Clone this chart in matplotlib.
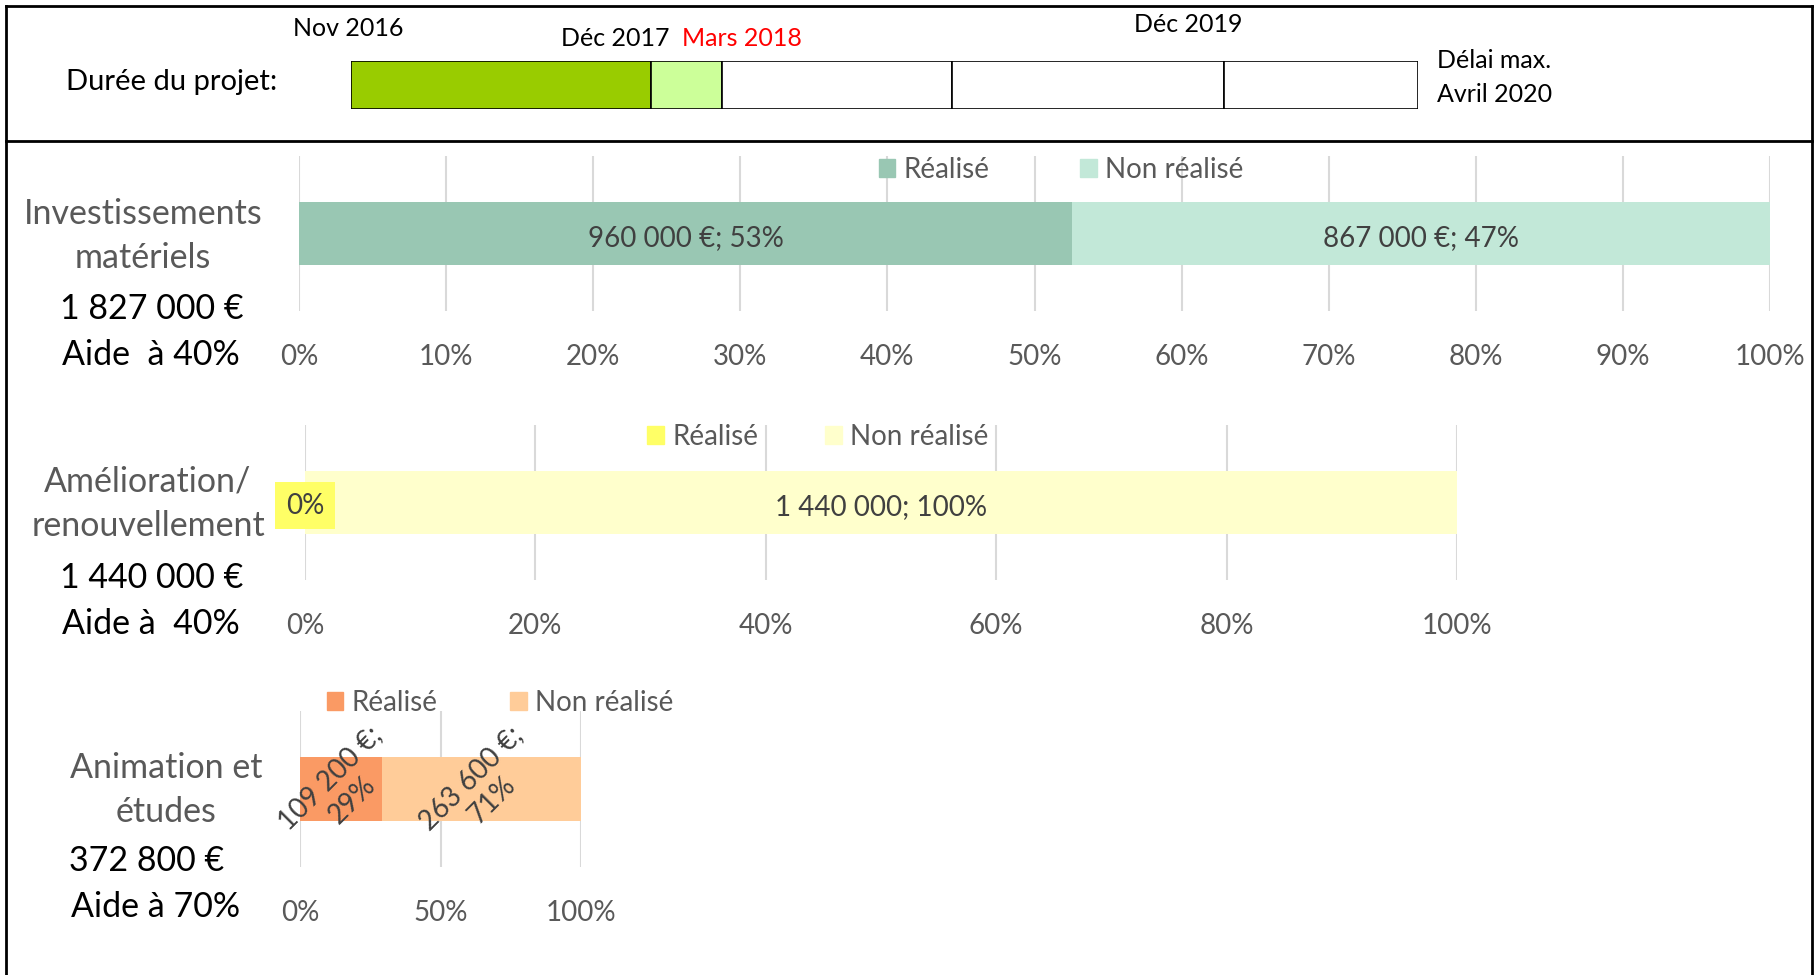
import matplotlib
matplotlib.use('Agg')
import matplotlib.pyplot as plt
from matplotlib.patches import Patch
from matplotlib.lines import Line2D

W, H = 1818, 975
plt.rcParams['font.family'] = ['Lato', 'DejaVu Sans']

# --- data ---
timeline_edges = [0.0, 0.2815, 0.348, 0.563, 0.818, 1.0]   # fraction of the project span
timeline_colors = ['#99CC00', '#CCFF99', 'white', 'white', 'white']

series = ['Réalisé', 'Non réalisé']
inv_values = [960000, 867000]
amel_values = [0, 1440000]
anim_values = [109200, 263600]

inv_colors = ['#99C7B3', '#C2E8D8']
amel_colors = ['#FFFF66', '#FFFFCC']
anim_colors = ['#FA9A64', '#FFCC99']

inv_ticks = [0, .1, .2, .3, .4, .5, .6, .7, .8, .9, 1.0]
amel_ticks = [0, .2, .4, .6, .8, 1.0]
anim_ticks = [0, .5, 1.0]

GRAY = '#595959'
DARK = '#404040'


def fx(x):
    return x / W


def fy(y):
    return 1 - y / H


def rect(x0, y0, x1, y1):
    return [x0 / W, 1 - y1 / H, (x1 - x0) / W, (y1 - y0) / H]


def money(v):
    return f'{v:,.0f}'.replace(',', ' ')


fig = plt.figure(figsize=(W / 100, H / 100), dpi=100)

# frame
for xs, ys in [([6, 6], [6, 975]), ([6, 1812], [6, 6]), ([1812, 1812], [6, 975]),
               ([6, 1812], [141, 141])]:
    fig.add_artist(Line2D([fx(x) for x in xs], [fy(y) for y in ys],
                          color='black', lw=2, transform=fig.transFigure))

# timeline
ax = fig.add_axes(rect(351, 61, 1418, 109))
widths = [b - a for a, b in zip(timeline_edges[:-1], timeline_edges[1:])]
ax.barh(0, widths, left=timeline_edges[:-1], height=1, color=timeline_colors,
        edgecolor='black', lw=1.2)
ax.set_xlim(0, 1)
ax.set_ylim(-0.5, 0.5)
ax.axis('off')

fig.text(fx(172), fy(82), 'Durée du projet:', fontsize=21, ha='center', va='center')
fig.text(fx(348), fy(29), 'Nov 2016', fontsize=18, ha='center', va='center')
fig.text(fx(615), fy(38), 'Déc 2017', fontsize=18, ha='center', va='center')
fig.text(fx(742), fy(38), 'Mars 2018', fontsize=18, ha='center', va='center', color='red')
fig.text(fx(1188), fy(25), 'Déc 2019', fontsize=18, ha='center', va='center')
fig.text(fx(1437), fy(61), 'Délai max.', fontsize=18, ha='left', va='center')
fig.text(fx(1437), fy(95), 'Avril 2020', fontsize=18, ha='left', va='center')


def panel(box, values, colors, ticks, leg_xy, colsp, unit, rot=0):
    ax = fig.add_axes(rect(*box))
    total = sum(values)
    left = 0
    for v, c in zip(values, colors):
        f = v / total
        ax.barh(0, f, left=left, height=0.406, color=c, zorder=2)
        pct = round(f * 100)
        if v == 0:
            ax.text(left, -0.02, f'{pct}%', ha='center', va='center', fontsize=20,
                    color=DARK, zorder=3,
                    bbox=dict(boxstyle='square,pad=0.38', fc=c, ec='none'))
        else:
            sep = ';\n' if rot else '; '
            ax.text(left + f / 2, -0.03 if not rot else 0, f'{money(v)}{unit}{sep}{pct}%',
                    ha='center', va='center', fontsize=20, color=DARK, rotation=rot,
                    multialignment='center', zorder=3)
        left += f
    ax.set_xlim(0, 1)
    ax.set_ylim(-0.5, 0.5)
    ax.set_xticks(ticks)
    ax.set_xticklabels([f'{round(t * 100)}%' for t in ticks])
    ax.set_yticks([])
    ax.tick_params(axis='x', length=0, pad=23.5, labelsize=20, labelcolor=GRAY)
    ax.grid(axis='x', color='#D9D9D9', lw=1.5, zorder=0)
    ax.set_axisbelow(True)
    for s in ax.spines.values():
        s.set_visible(False)
    fig.legend(handles=[Patch(color=c) for c in colors], labels=series, loc='center',
               bbox_to_anchor=(fx(leg_xy[0]), fy(leg_xy[1])), ncol=2, frameon=False,
               handlelength=0.6, handleheight=0.6, handletextpad=0.3,
               columnspacing=colsp, fontsize=20, labelcolor=GRAY)
    return ax


panel((299, 156, 1770, 311), inv_values, inv_colors, inv_ticks, (1061, 170), 3.25, ' €')
panel((305, 425, 1457, 580), amel_values, amel_colors, amel_ticks, (818, 437), 2.4, '')
panel((300, 711, 581, 867), anim_values, anim_colors, anim_ticks, (500, 703), 2.6, ' €',
      rot=45)

# left labels
fig.text(fx(143), fy(236), 'Investissements\nmatériels', fontsize=24.5, ha='center',
         va='center', color=GRAY, linespacing=1.5)
fig.text(fx(152), fy(309), '1 827 000 €', fontsize=24.5, ha='center', va='center')
fig.text(fx(151), fy(355), 'Aide  à 40%', fontsize=24.5, ha='center', va='center')

fig.text(fx(148), fy(504), 'Amélioration/\nrenouvellement', fontsize=24.5, ha='center',
         va='center', color=GRAY, linespacing=1.5)
fig.text(fx(152), fy(578), '1 440 000 €', fontsize=24.5, ha='center', va='center')
fig.text(fx(151), fy(624), 'Aide à  40%', fontsize=24.5, ha='center', va='center')

fig.text(fx(166), fy(790), 'Animation et\nétudes', fontsize=24.5, ha='center',
         va='center', color=GRAY, linespacing=1.5)
fig.text(fx(147), fy(861), '372 800 €', fontsize=24.5, ha='center', va='center')
fig.text(fx(156), fy(907), 'Aide à 70%', fontsize=24.5, ha='center', va='center')

fig.savefig('out.png', dpi=100)
